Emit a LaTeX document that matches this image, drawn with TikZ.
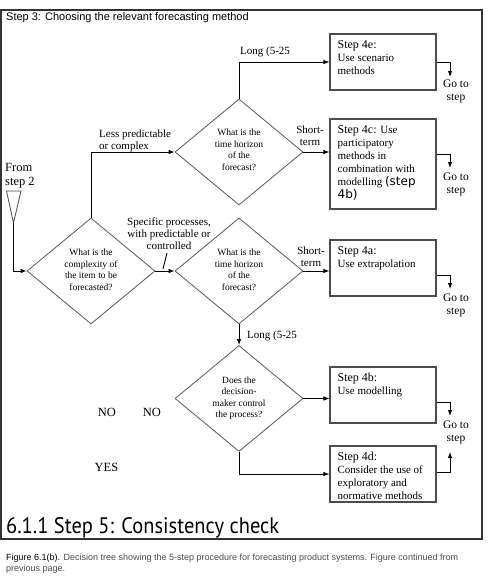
\documentclass[tikz,border=0pt]{standalone}
\usepackage{fontspec}
\usepackage{graphicx}
\setmainfont{Liberation Serif}
\setsansfont{Liberation Sans}
\newfontfamily\headfont{PT Sans}
\newfontfamily\wideSans{DejaVu Sans}
\usetikzlibrary{shapes.geometric,arrows.meta,calc}
\newcommand\hdf{\fontsize{12}{13}\selectfont}
\newcommand\sbf{\wideSans\fontsize{12}{13}\selectfont}
\begin{document}
\begin{tikzpicture}[x=1pt,y=-1pt,
 dia/.style={diamond,draw=black!65,line width=0.8pt,minimum width=128pt,minimum height=106pt,inner sep=0pt},
 dtext/.style={align=center,font=\fontsize{9.5}{11.5}\selectfont,inner sep=0pt,text=black},
 box/.style={draw=black!70,line width=1.1pt,minimum width=106pt,inner sep=0pt},
 btext/.style={anchor=north west,align=left,inner sep=0pt,font=\fontsize{11}{13}\selectfont,text=black},
 lbl/.style={inner sep=0pt,font=\fontsize{11}{12}\selectfont,text=black},
 goto/.style={align=center,inner sep=0pt,font=\fontsize{11.5}{13}\selectfont,text=black},
 arr/.style={draw=black,line width=0.9pt,-{Latex[length=6pt,width=4.5pt]}},
 ln/.style={draw=black,line width=0.9pt}]
\useasboundingbox (0,0) rectangle (489,579);
\fill[white] (0,0) rectangle (489,579);
% frame
\draw[line width=1.6pt,draw=black!80] (1,10) rectangle (482,539);
% title
\node[anchor=west,inner sep=0pt,font=\sffamily\fontsize{11}{12}\selectfont] (title) at (6,18) {Step 3: Choosing the relevant forecasting method};
% boxes
\node[box,minimum height=56pt] (b4e) at (383,62) {};
\node[box,minimum height=90pt] (b4c) at (383,164) {};
\node[box,minimum height=56pt] (b4a) at (383,268) {};
\node[box,minimum height=56pt] (b4b) at (383,395) {};
\node[box,minimum height=56pt] (b4d) at (383,474) {};
\node[btext] (t4e) at ([xshift=8pt,yshift=-6.5pt]b4e.north west) {{\hdf Step 4e:}\\Use scenario\\methods};
\node[btext] (t4c) at ([xshift=8pt,yshift=-6.5pt]b4c.north west) {{\hdf Step 4c:} Use\\participatory\\methods in\\combination with\\modelling {\sbf(step}\\{\sbf 4b)}};
\node[btext] (t4a) at ([xshift=8pt,yshift=-6.5pt]b4a.north west) {{\hdf Step 4a:}\\Use extrapolation};
\node[btext] (t4b) at ([xshift=8pt,yshift=-6.5pt]b4b.north west) {{\hdf Step 4b:}\\Use modelling};
\node[btext] (t4d) at ([xshift=8pt,yshift=-6.5pt]b4d.north west) {{\hdf Step 4d:}\\Consider the use of\\exploratory and\\normative methods};
% diamonds
\node[dia] (d1) at (91,271) {};
\node[dia] (d2) at (239,152) {};
\node[dia] (d3) at (239,271) {};
\node[dia] (d4) at (239,398.5) {};
\node[dtext] (q1) at (91,270) {What is the\\complexity of\\the item to be\\forecasted?};
\node[dtext] (q2) at (239,150) {What is the\\time horizon\\of the\\forecast?};
\node[dtext] (q3) at (239,270) {What is the\\time horizon\\of the\\forecast?};
\node[dtext] (q4) at (239,398) {Does the\\decision-\\maker control\\the process?};
% start triangle
\coordinate (ta) at (13.5,223);
\draw[draw=black!70,line width=0.8pt] (6.5,191) -- (21,191) -- (ta) -- cycle;
\node[anchor=west,align=left,inner sep=0pt,font=\fontsize{12.5}{14.5}\selectfont,text=black] (from) at (5,175.5) {From\\step 2};
% connectors
\draw[arr] (ta) |- (d1.west);
\draw[arr] (d1.north) |- (d2.west);
\draw[arr] (d2.north) |- (b4e.west);
\draw[arr] (d2.east) -- (d2.east -| b4c.west);
\draw[arr] (d1.east) -- (d3.west);
\draw[arr] (d3.east) -- (d3.east -| b4a.west);
\draw[arr] (d3.south) -- (d4.north);
\draw[arr] (d4.east) -- (d4.east -| b4b.west);
\draw[arr] (d4.south) |- (b4d.west);
\coordinate (tk1) at (163,269);
\coordinate (tk2) at (167,253);
\draw[ln] (tk1) -- (tk2);
% go to step
\coordinate (e1) at (450,77);
\coordinate (e2) at (450,168);
\coordinate (e3) at (450,289);
\coordinate (e4) at (450,416);
\coordinate (e5) at (450,452);
\draw[arr] (b4e.east) -| (e1);
\draw[arr] ([yshift=10pt]b4c.east) -| (e2);
\draw[arr] ([yshift=-7pt]b4a.east) -| (e3);
\draw[arr] ([yshift=-7pt]b4b.east) -| (e4);
\draw[arr] ([yshift=2pt]b4d.east) -| (e5);
\node[goto] (g1) at (456,91.5) {Go to\\step};
\node[goto] (g2) at (456,184) {Go to\\step};
\node[goto] (g3) at (456,305) {Go to\\step};
\node[goto] (g4) at (456,432) {Go to\\step};
% labels
\node[lbl,anchor=west] (long1) at (240,52) {Long (5-25};
\node[lbl,align=center] (sh1) at (310,136) {Short-\\term};
\node[lbl,align=left,anchor=west] (lp) at (99,141) {Less predictable\\or complex};
\node[lbl,align=center] (sp) at (169,234) {Specific processes,\\with predictable or\\controlled};
\node[lbl,align=center] (sh2) at (311,257) {Short-\\term};
\node[lbl,anchor=west] (long2) at (247,336) {Long (5-25};
\node[lbl,font=\fontsize{12.5}{14}\selectfont] (no1) at (107,412) {NO};
\node[lbl,font=\fontsize{12.5}{14}\selectfont] (no2) at (152,412) {NO};
\node[lbl,font=\fontsize{12.5}{14}\selectfont] (yes) at (106.5,467) {YES};
% heading
\node[anchor=base west,inner sep=0pt] (head) at (6,533) {\resizebox{273pt}{16pt}{\headfont 6.1.1 Step 5: Consistency check}};
% caption
\node[anchor=base west,inner sep=0pt,font=\sffamily\fontsize{9}{10}\selectfont,text=black!70] (cap1) at (6,560) {\textcolor{black}{Figure 6.1(b).} Decision tree showing the 5-step procedure for forecasting product systems. Figure continued from};
\node[anchor=base west,inner sep=0pt,font=\sffamily\fontsize{9}{10}\selectfont,text=black!70] (cap2) at (6,571) {previous page.};
\end{tikzpicture}
\end{document}
